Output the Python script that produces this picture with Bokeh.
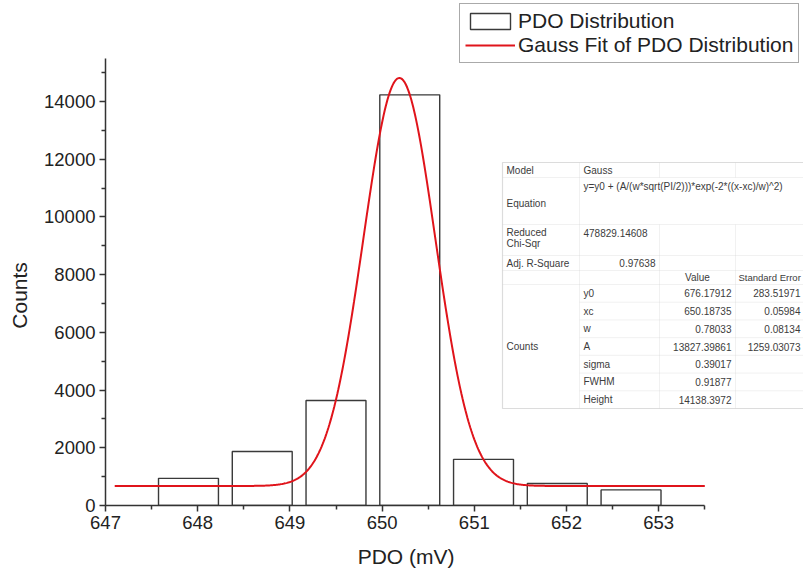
import numpy as np
from bokeh.plotting import figure
from bokeh.models import (Range1d, FixedTicker, Legend, LegendItem, LabelSet, LinearAxis,
                          BoxAnnotation, PolyAnnotation, ColumnDataSource)
from bokeh.core.properties import value
from bokeh.embed import file_html
from bokeh.resources import INLINE

# ---------------- data ----------------
bin_centers = [647.9, 648.7, 649.5, 650.3, 651.1, 651.9, 652.7]
bin_counts = [940, 1870, 3640, 14230, 1600, 760, 540]
x_ticks = [647, 648, 649, 650, 651, 652, 653]
x_minor_ticks = [647.5, 648.5, 649.5, 650.5, 651.5, 652.5, 653.5]
y_ticks = [0, 2000, 4000, 6000, 8000, 10000, 12000, 14000]
y_minor_ticks = [1000, 3000, 5000, 7000, 9000, 11000, 13000, 15000]
x_title = "PDO (mV)"
y_title = "Counts"

fit_model = "Gauss"
fit_equation = "y=y0 + (A/(w*sqrt(PI/2)))*exp(-2*((x-xc)/w)^2)"
fit_chi_sqr = "478829.14608"
fit_adj_r2 = "0.97638"
param_names = ["y0", "xc", "w", "A", "sigma", "FWHM", "Height"]
param_values = [676.17912, 650.18735, 0.78033, 13827.39861, 0.39017, 0.91877, 14138.3972]
param_value_text = ["676.17912", "650.18735", "0.78033", "13827.39861", "0.39017", "0.91877", "14138.3972"]
param_errors = ["283.51971", "0.05984", "0.08134", "1259.03073", "", "", ""]
fit_x_start, fit_x_end = 647.1, 653.5

# Gauss fit curve from the fitted parameters shown in the table
y0, xc, w, A = param_values[:4]
fx = np.linspace(fit_x_start, fit_x_end, 600)
fy = y0 + (A / (w * np.sqrt(np.pi / 2))) * np.exp(-2 * ((fx - xc) / w) ** 2)

# ---------------- figure ----------------
W, H = 803, 574
BL, BB = 105, 69
FL, FB = BL, H - BB  # frame left / bottom in page pixels
PX_X = 92.2
PX_Y = 404 / 14000.0

p = figure(width=W, height=H, output_backend="svg", toolbar_location=None,
           x_range=Range1d(647, 647 + (W - BL) / PX_X),
           y_range=Range1d(0, (H - BB) / PX_Y),
           min_border_left=BL, min_border_right=0, min_border_top=0, min_border_bottom=BB)
p.outline_line_color = None
p.grid.visible = False
p.background_fill_color = "white"
p.border_fill_color = "white"

FONT = "Liberation Sans"
AX = "#333333"
for ax in (p.xaxis[0], p.yaxis[0]):
    ax.axis_line_color = AX
    ax.axis_line_width = 1.5
    ax.major_tick_line_color = AX
    ax.minor_tick_line_color = AX
    ax.major_tick_line_width = 1.5
    ax.minor_tick_line_width = 1.5
    ax.major_tick_in = 0
    ax.major_tick_out = 6
    ax.minor_tick_in = 0
    ax.minor_tick_out = 4
    ax.major_label_text_font = FONT
    ax.major_label_text_font_size = "18.5px"
    ax.major_label_text_color = "#222222"
    ax.major_label_standoff = 4

p.xaxis.bounds = (647, 653.5)
p.yaxis.bounds = (0, 15500)
p.xaxis.ticker = FixedTicker(ticks=x_ticks, minor_ticks=x_minor_ticks)
p.yaxis.ticker = FixedTicker(ticks=y_ticks, minor_ticks=y_minor_ticks)

# axis titles: centred on the drawn axis extents (as in the original), drawn as
# a single labelled tick on an extra, line-less axis outside each main axis
X_TITLE_AT = 650.26
Y_TITLE_AT = 7280
for side, at, text, standoff, orient in (("below", X_TITLE_AT, x_title, 13, "horizontal"),
                                         ("left", Y_TITLE_AT, y_title, 10, "vertical")):
    t_ax = LinearAxis(ticker=FixedTicker(ticks=[at], minor_ticks=[]),
                      major_label_overrides={at: text})
    t_ax.axis_line_color = None
    t_ax.major_tick_line_color = None
    t_ax.minor_tick_line_color = None
    t_ax.major_tick_in = 0
    t_ax.major_tick_out = 0
    t_ax.major_label_standoff = standoff
    t_ax.major_label_orientation = orient
    t_ax.major_label_text_font = FONT
    t_ax.major_label_text_font_size = "21px"
    t_ax.major_label_text_color = "#222222"
    p.add_layout(t_ax, side)

r_bar = p.vbar(x=bin_centers, top=bin_counts, width=0.65, bottom=0,
               fill_alpha=0, line_color="#3a3a3a", line_width=1.4)
r_fit = p.line(fx, fy, line_color="#e0141b", line_width=2)

legend = Legend(items=[LegendItem(label="PDO Distribution", renderers=[r_bar]),
                       LegendItem(label="Gauss Fit of PDO Distribution", renderers=[r_fit])],
                location=(459 - FL, FB - 63))
legend.label_text_font = FONT
legend.label_text_font_size = "21px"
legend.label_text_color = "#222222"
legend.glyph_width = 50
legend.glyph_height = 20
legend.label_height = 20
legend.spacing = 0
legend.padding = 5
legend.margin = 0
legend.label_standoff = 3
legend.border_line_color = "#555555"
legend.border_line_width = 1
legend.background_fill_alpha = 1
p.add_layout(legend)

# ---------------- fit results table ----------------
def sx(X):
    return X - FL

def sy(Y):
    return FB - Y

L, C1, C2, C3, R = 502, 579, 659, 735, 830
T, R1, R2, R3, R4, R5, B = 162, 177, 224, 255, 270, 284, 408
row_h = (B - R5) / len(param_names)
param_rows = [R5 + (k + 0.5) * row_h for k in range(len(param_names))]

p.add_layout(BoxAnnotation(left=sx(L), right=sx(R), top=sy(T), bottom=sy(B),
                           left_units="screen", right_units="screen",
                           top_units="screen", bottom_units="screen",
                           fill_color="white", fill_alpha=1,
                           line_color="#8a8a8a", line_width=1.2))

GRID = "#cfcfcf"
hlines = [(L, R, R1), (L, R, R2), (L, R, R3), (L, R, R4), (L, R, R5)]
hlines += [(C1, R, R5 + k * row_h) for k in range(1, len(param_names))]
vlines = [(C1, T, B), (C2, T, R1), (C3, T, R1), (C2, R2, B), (C3, R2, B)]
for x0, x1, yy in hlines:
    p.add_layout(PolyAnnotation(xs=[sx(x0), sx(x1)], ys=[sy(yy), sy(yy)],
                                xs_units="screen", ys_units="screen",
                                fill_alpha=0, line_color=GRID, line_width=1))
for xx, y0_, y1_ in vlines:
    p.add_layout(PolyAnnotation(xs=[sx(xx), sx(xx)], ys=[sy(y0_), sy(y1_)],
                                xs_units="screen", ys_units="screen",
                                fill_alpha=0, line_color=GRID, line_width=1))

left_text = ["Model", fit_model, "Equation", fit_equation, "Reduced", "Chi-Sqr",
             fit_chi_sqr, "Adj. R-Square", "Counts"] + param_names
left_x = [506, 583, 506, 583, 506, 506, 583, 506, 506] + [583] * len(param_names)
left_y = [169.5, 169.5, 203, 186, 232, 243, 232, 262.5, 346] + param_rows

right_text = [fit_adj_r2] + param_value_text + param_errors
right_x = [655] + [731] * len(param_names) + [800] * len(param_names)
right_y = [262.5] + param_rows + param_rows

TXT = "#3c3c3c"
for texts, xs, ys, align, size in ((left_text, left_x, left_y, "left", "10px"),
                                   (right_text, right_x, right_y, "right", "10px"),
                                   (["Value"], [697], [277], "center", "10px"),
                                   (["Standard Error"], [738], [277], "left", "9.5px")):
    src = ColumnDataSource(dict(x=[sx(v) for v in xs], y=[sy(v) for v in ys], t=texts))
    p.add_layout(LabelSet(x="x", y="y", text="t", source=src,
                          x_units="screen", y_units="screen",
                          text_align=align, text_baseline="middle",
                          text_font=value(FONT), text_font_size=value(size),
                          text_color=TXT))

open("out.html", "w").write(file_html(p, INLINE))
